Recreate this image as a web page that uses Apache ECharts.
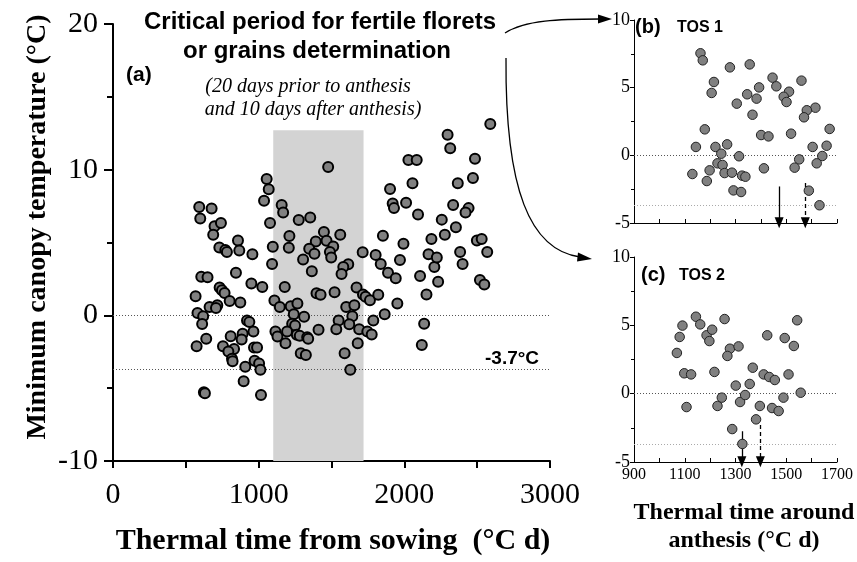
<!DOCTYPE html>
<html>
<head>
<meta charset="utf-8">
<script src="https://cdn.jsdelivr.net/npm/echarts@6/dist/echarts.min.js"></script>
<style>html,body{margin:0;padding:0;background:#fff;}#c{width:857px;height:562px;}</style>
</head>
<body>
<div id="c"></div>
<script>
// ---- Data ----
const mainTime = [592,677,599,697,741,688,1055,1069,1037,1078,858,730,771,782,867,957,1097,1092,606,649,844,950,1025,567,732,748,766,801,874,663,716,707,580,619,612,640,574,920,936,964,808,890,883,755,831,792,817,821,968,989,972,1003,1012,908,897,624,631,1016,
1477,1158,1168,1275,1354,1448,1560,1211,1392,1466,1207,1347,1512,1489,1383,1498,1305,1365,1615,1581,1569,1714,1179,1108,1145,1220,1266,1241,1312,1230,1250,1115,1129,1195,1262,1282,1333,1340,1184,1289,1324,1411,1397,1425,1521,1601,1657,1672,1549,1643,1622,1533,1690,1680,1590,1629,
1716,1734,1764,1821,1952,1865,1787,1746,1776,1838,1888,1941,2108,2206,2232,2152,2400,2519,2549,2136,2120,2590,2297,2315,2028,2085,2485,2471,2056,2367,1902,1920,1929,2012,2094,2335,2441,2420,2257,2278,2354,1853,1994,2186,2498,2531,2569,2383,2166,2223,1970,1803];
const mainTemp = [7.43,7.34,6.64,6.11,6.34,5.54,9.36,8.65,7.87,6.34,5.14,4.66,4.48,4.34,4.45,4.2,4.71,3.53,2.65,2.61,2.93,2.19,1.94,1.31,1.91,1.73,1.54,0.99,0.88,0.58,0.69,0.51,0.16,-0.07,-0.6,-1.61,-2.12,-0.35,-0.46,-1.11,-1.43,-1.27,-1.66,-2.12,-2.31,-2.49,-2.98,-3.16,-2.21,-2.21,-3.11,-3.3,-3.74,-3.53,-4.52,-5.28,-5.35,-5.47,
10.19,7.57,7.06,6.55,6.71,5.72,5.54,5.45,5.07,5.12,4.64,4.57,4.73,4.34,4.22,3.97,3.83,3.02,3.51,3.32,2.84,4.33,1.94,1.02,0.58,0.62,0.81,0.07,-0.09,-0.58,-0.69,-1.11,-1.45,-1.11,-1.34,-1.41,-1.5,-1.61,-1.92,-2.61,-2.72,-0.99,1.52,1.41,1.59,0.58,0.69,1.91,-0.35,-0.07,-0.62,-0.95,-0.95,-1.92,-2.61,-3.74,
1.43,1.27,1.04,1.41,0.81,0.07,-0.35,-1.11,-1.31,3.53,2.93,2.54,2.7,3.32,2.3,1.43,3.53,2.42,2.12,-0.58,-2.03,13.13,12.39,11.47,10.66,10.66,10.75,9.43,9.07,9.07,8.67,7.68,7.36,7.73,6.92,7.57,7.36,7.06,6.57,5.54,6.04,5.47,4.91,5.24,5.14,5.24,4.34,4.34,4.2,3.97,3.8,4.15];

const tos1Time = [1162,1171,1278,1356,1215,1206,1446,1461,1560,1393,1346,1383,1511,1490,1501,1305,1367,1615,1581,1570,1179,1671,1401,1430,1519,1144,1221,1267,1244,1314,1604,1659,1642,1551,1620,1533,1412,1130,1198,1229,1249,1257,1286,1326,1339,1187,1292,1322,1589,1631];
const tos1Temp = [7.54,7.02,6.5,6.72,5.42,4.61,5.74,5.1,5.52,5.02,4.51,4.19,4.7,4.33,3.94,3.82,3.0,3.52,3.33,2.81,1.92,1.95,1.5,1.4,1.6,0.62,0.62,0.81,0.12,-0.07,0.62,0.71,-0.05,-0.3,-0.59,-0.91,-0.96,-1.38,-1.11,-0.59,-0.71,-1.31,-1.28,-1.5,-1.58,-1.9,-2.59,-2.71,-2.61,-3.69];

const tos2Time = [1069,1080,1091,1144,1161,1186,1197,1208,1257,1278,1268,1312,1098,1125,1217,1107,1229,1246,1301,1318,1338,1356,1368,1381,1396,1287,1327,1425,1411,1433,1455,1489,1444,1470,1494,1509,1530,1543,1557];
const tos2Temp = [2.98,4.15,4.98,5.63,5.07,4.27,3.85,4.68,5.46,3.29,2.76,3.46,1.49,1.41,1.59,-0.98,-0.9,-0.29,0.59,-0.61,-0.1,0.71,1.9,-1.88,-0.9,-2.59,-3.68,4.27,1.41,1.22,1.0,-0.29,-1.05,-1.27,4.07,1.41,3.49,5.37,0.07];

const refLines = [0, -3.7];               // dotted reference temperatures
const criticalPeriod = [1100, 1720];      // shaded thermal-time window
const criticalTop = 12.7;
const tos1Arrows = [1472, 1575];          // [solid, dashed] x positions
const tos2Arrows = [1325, 1398];
const arrowFrom = [[-2.3, -2.05], [-2.75, -2.3]];
const mainTicks = {min: 0, max: 3000, step: 1000};
const subTicks = {min: 900, max: 1700, step: 200};

const zip = (a, b) => a.map((v, i) => [v, b[i]]);

const serif = '"Liberation Serif", "Times New Roman", serif';
const sans = '"Liberation Sans", Arial, sans-serif';
const plain = v => String(v);

function arrowLines(xs, froms) {
  return xs.map((x, i) => [
    {coord: [x, froms[i]], symbol: 'none'},
    {coord: [x, -4.98], symbol: 'triangle', symbolSize: [9, 11],
     lineStyle: {type: i === 0 ? 'solid' : [4, 3], color: '#000', width: 1.3}}
  ]);
}

const chart = echarts.init(document.getElementById('c'), null, {renderer: 'canvas'});

const axisBase = {
  axisLine: {show: true, onZero: false, lineStyle: {color: '#000', width: 2}},
  splitLine: {show: false},
};

const option = {
  animation: false,
  backgroundColor: '#fff',
  grid: [
    {left: 113, top: 24, width: 437, height: 437},
    {left: 634, top: 20, width: 203, height: 203},
    {left: 634, top: 257, width: 203, height: 205}
  ],
  xAxis: [
    Object.assign({}, axisBase, {
      gridIndex: 0, type: 'value', min: mainTicks.min, max: mainTicks.max, interval: mainTicks.step,
      axisTick: {show: true, inside: false, length: 7, lineStyle: {width: 2, color: '#000'}},
      minorTick: {show: true, splitNumber: 2, length: 7, lineStyle: {width: 2, color: '#000'}},
      axisLabel: {fontFamily: serif, fontSize: 30, color: '#000', margin: 19, formatter: plain}
    }),
    Object.assign({}, axisBase, {
      gridIndex: 1, type: 'value', min: subTicks.min, max: subTicks.max, interval: subTicks.step,
      axisLine: {show: true, onZero: false, lineStyle: {color: '#000', width: 1}},
      axisTick: {show: true, inside: true, length: 4, lineStyle: {width: 1, color: '#000'}},
      minorTick: {show: true, splitNumber: 2, length: 4, lineStyle: {width: 1, color: '#000'}},
      axisLabel: {show: false}
    }),
    Object.assign({}, axisBase, {
      gridIndex: 2, type: 'value', min: subTicks.min, max: subTicks.max, interval: subTicks.step,
      axisLine: {show: true, onZero: false, lineStyle: {color: '#000', width: 1}},
      axisTick: {show: true, inside: true, length: 4, lineStyle: {width: 1, color: '#000'}},
      minorTick: {show: true, splitNumber: 2, length: 4, lineStyle: {width: 1, color: '#000'}},
      axisLabel: {fontFamily: serif, fontSize: 16, color: '#000', margin: 5, formatter: plain}
    })
  ],
  yAxis: [
    Object.assign({}, axisBase, {
      gridIndex: 0, type: 'value', min: -10, max: 20, interval: 10,
      axisTick: {show: true, inside: false, length: 9, lineStyle: {width: 2, color: '#000'}},
      minorTick: {show: true, splitNumber: 2, length: 6, lineStyle: {width: 2, color: '#000'}},
      axisLabel: {fontFamily: serif, fontSize: 30, color: '#000', margin: 15}
    }),
    Object.assign({}, axisBase, {
      gridIndex: 1, type: 'value', min: -5, max: 10, interval: 5,
      axisLine: {show: true, onZero: false, lineStyle: {color: '#000', width: 1}},
      axisTick: {show: true, inside: false, length: 4, lineStyle: {width: 1, color: '#000'}},
      minorTick: {show: true, splitNumber: 2, length: 3, lineStyle: {width: 1, color: '#000'}},
      axisLabel: {fontFamily: serif, fontSize: 18, color: '#000', margin: 4}
    }),
    Object.assign({}, axisBase, {
      gridIndex: 2, type: 'value', min: -5, max: 10, interval: 5,
      axisLine: {show: true, onZero: false, lineStyle: {color: '#000', width: 1}},
      axisTick: {show: true, inside: false, length: 4, lineStyle: {width: 1, color: '#000'}},
      minorTick: {show: true, splitNumber: 2, length: 3, lineStyle: {width: 1, color: '#000'}},
      axisLabel: {fontFamily: serif, fontSize: 18, color: '#000', margin: 4}
    })
  ],
  series: [
    {
      type: 'line', xAxisIndex: 0, yAxisIndex: 0, data: [], z: 1, silent: true,
      markArea: {
        silent: true,
        itemStyle: {color: '#d3d3d3'},
        data: [[{xAxis: criticalPeriod[0], yAxis: -10}, {xAxis: criticalPeriod[1], yAxis: criticalTop}]]
      },
      markLine: {
        silent: true, symbol: 'none', label: {show: false},
        lineStyle: {color: '#555', width: 1, type: [1, 2]},
        data: refLines.map(v => ({yAxis: v}))
      }
    },
    {
      type: 'scatter', xAxisIndex: 0, yAxisIndex: 0, z: 5,
      data: zip(mainTime, mainTemp),
      symbolSize: 10,
      itemStyle: {color: '#808080', borderColor: '#000', borderWidth: 2, opacity: 1}
    },
    {
      type: 'scatter', xAxisIndex: 1, yAxisIndex: 1, z: 5,
      data: zip(tos1Time, tos1Temp),
      symbolSize: 9.5,
      itemStyle: {color: '#808080', borderColor: '#222', borderWidth: 1, opacity: 1},
      markLine: {
        silent: true, symbol: 'none', label: {show: false}, z: 3,
        data: [
          {yAxis: refLines[0], lineStyle: {color: '#555', width: 1, type: [1, 2]}},
          {yAxis: refLines[1], lineStyle: {color: '#aaa', width: 1, type: [1, 2]}}
        ]
      }
    },
    {
      type: 'line', xAxisIndex: 1, yAxisIndex: 1, data: [], z: 6, silent: true,
      markLine: {
        silent: true, label: {show: false}, lineStyle: {color: '#000', width: 1.3},
        itemStyle: {color: '#000'},
        data: arrowLines(tos1Arrows, arrowFrom[0])
      }
    },
    {
      type: 'scatter', xAxisIndex: 2, yAxisIndex: 2, z: 5,
      data: zip(tos2Time, tos2Temp),
      symbolSize: 9.5,
      itemStyle: {color: '#808080', borderColor: '#222', borderWidth: 1, opacity: 1},
      markLine: {
        silent: true, symbol: 'none', label: {show: false}, z: 3,
        data: [
          {yAxis: refLines[0], lineStyle: {color: '#555', width: 1, type: [1, 2]}},
          {yAxis: refLines[1], lineStyle: {color: '#aaa', width: 1, type: [1, 2]}}
        ]
      }
    },
    {
      type: 'line', xAxisIndex: 2, yAxisIndex: 2, data: [], z: 6, silent: true,
      markLine: {
        silent: true, label: {show: false}, lineStyle: {color: '#000', width: 1.3},
        itemStyle: {color: '#000'},
        data: arrowLines(tos2Arrows, arrowFrom[1])
      }
    }
  ],
  graphic: [
    {type: 'text', x: 320, y: 22, style: {text: 'Critical period for fertile florets', font: 'bold 24px ' + sans, fill: '#000', align: 'center', verticalAlign: 'middle'}},
    {type: 'text', x: 317, y: 51, style: {text: 'or grains determination', font: 'bold 24px ' + sans, fill: '#000', align: 'center', verticalAlign: 'middle'}},
    {type: 'text', x: 308, y: 87, style: {text: '(20 days prior to anthesis', font: 'italic 20px ' + serif, fill: '#000', align: 'center', verticalAlign: 'middle'}},
    {type: 'text', x: 313, y: 110, style: {text: 'and 10 days after anthesis)', font: 'italic 20px ' + serif, fill: '#000', align: 'center', verticalAlign: 'middle'}},
    {type: 'text', x: 126, y: 75, style: {text: '(a)', font: 'bold 21px ' + sans, fill: '#000', align: 'left', verticalAlign: 'middle'}},
    {type: 'text', x: 485, y: 359, style: {text: '-3.7°C', font: 'bold 19px ' + sans, fill: '#000', align: 'left', verticalAlign: 'middle'}},
    {type: 'text', x: 635, y: 27, style: {text: '(b)', font: 'bold 20px ' + sans, fill: '#000', align: 'left', verticalAlign: 'middle'}},
    {type: 'text', x: 677, y: 28, style: {text: 'TOS 1', font: 'bold 16px ' + sans, fill: '#000', align: 'left', verticalAlign: 'middle'}},
    {type: 'text', x: 641, y: 275, style: {text: '(c)', font: 'bold 20px ' + sans, fill: '#000', align: 'left', verticalAlign: 'middle'}},
    {type: 'text', x: 679, y: 276, style: {text: 'TOS 2', font: 'bold 16px ' + sans, fill: '#000', align: 'left', verticalAlign: 'middle'}},
    {type: 'text', x: 38, y: 227, rotation: Math.PI / 2, style: {text: 'Minimum canopy temperature (°C)', font: 'bold 28px ' + serif, fill: '#000', align: 'center', verticalAlign: 'middle'}},
    {type: 'text', x: 333, y: 541, style: {text: 'Thermal time from sowing  (°C d)', font: 'bold 30px ' + serif, fill: '#000', align: 'center', verticalAlign: 'middle'}},
    {type: 'text', x: 744, y: 513, style: {text: 'Thermal time around', font: 'bold 24px ' + serif, fill: '#000', align: 'center', verticalAlign: 'middle'}},
    {type: 'text', x: 744, y: 541, style: {text: 'anthesis (°C d)', font: 'bold 24px ' + serif, fill: '#000', align: 'center', verticalAlign: 'middle'}},
    // curved connector arrows
    {type: 'bezierCurve', shape: {x1: 505, y1: 33, cpx1: 525, cpy1: 20, cpx2: 560, cpy2: 19, x2: 600, y2: 19}, style: {stroke: '#000', lineWidth: 1.3, fill: null}},
    {type: 'polygon', shape: {points: [[612, 19], [598, 14.5], [598, 23.5]]}, style: {fill: '#000'}},
    {type: 'bezierCurve', shape: {x1: 506, y1: 58, cpx1: 505, cpy1: 190, cpx2: 530, cpy2: 250, x2: 580, y2: 257}, style: {stroke: '#000', lineWidth: 1.3, fill: null}},
    {type: 'polygon', shape: {points: [[592, 259], [578, 252.5], [577, 261.5]]}, style: {fill: '#000'}}
  ]
};

chart.setOption(option);
</script>
</body>
</html>
